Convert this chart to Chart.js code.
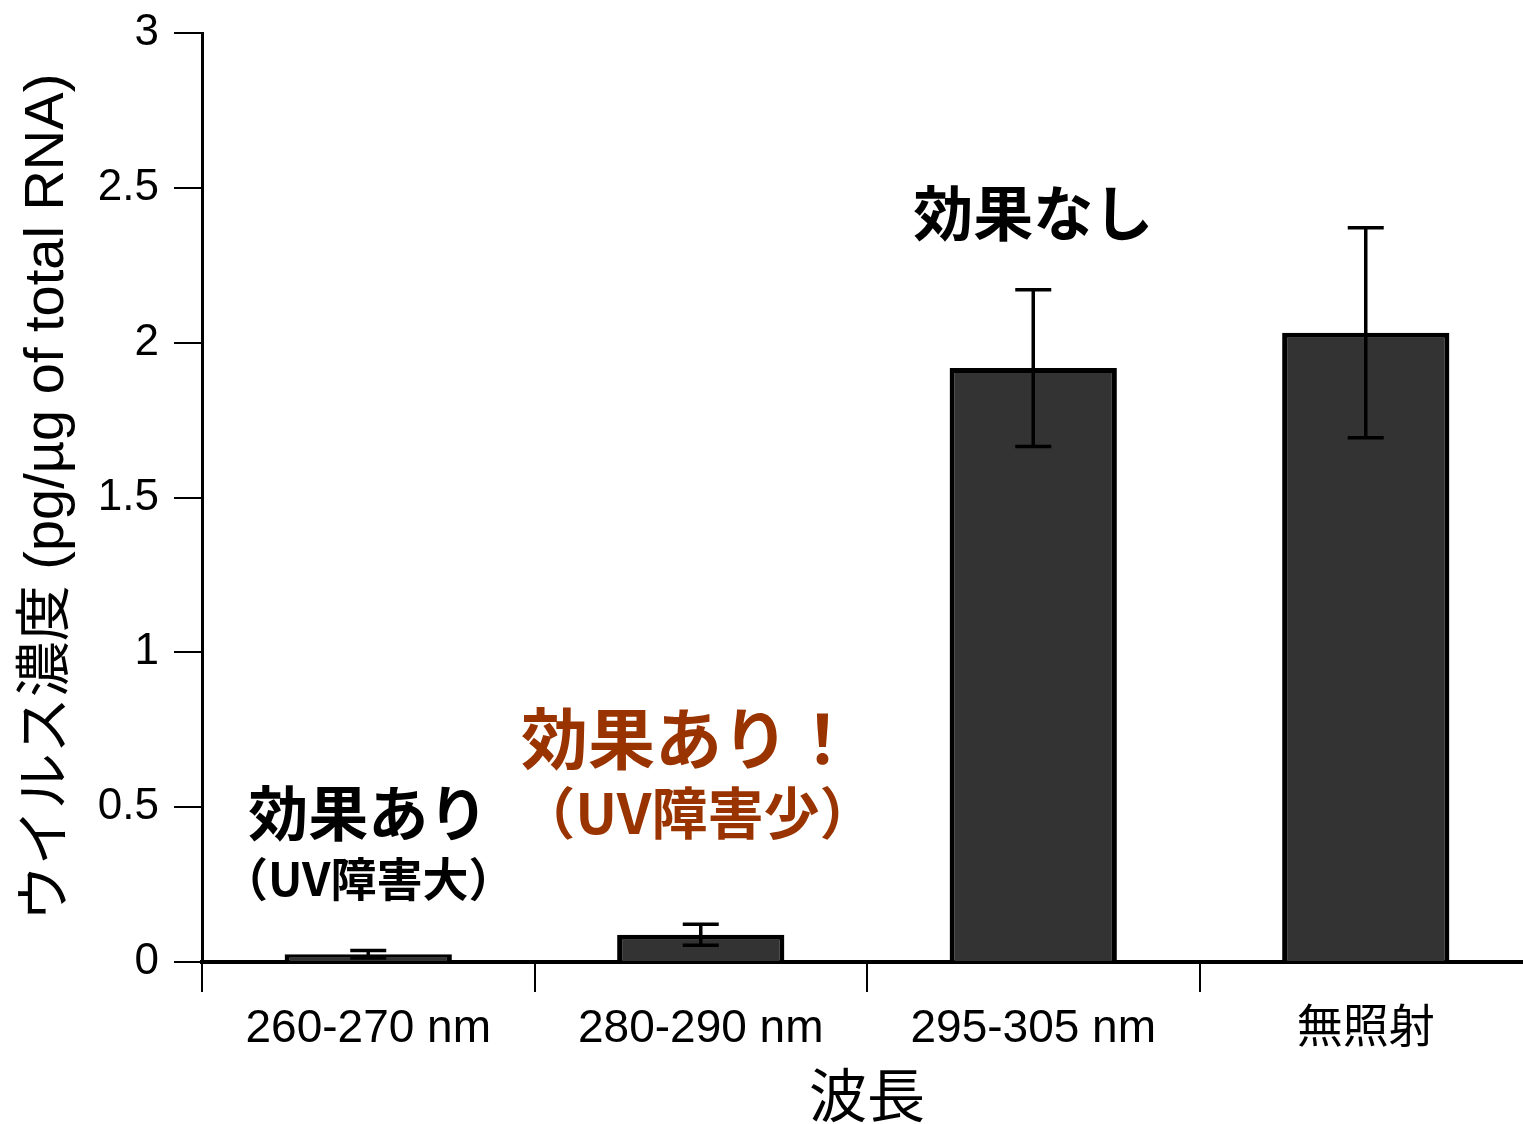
<!DOCTYPE html>
<html lang="ja">
<head>
<meta charset="UTF-8">
<title>波長別ウイルス濃度</title>
<style>
  * { margin: 0; padding: 0; box-sizing: border-box; }
  body { background: #fff; overflow: hidden; }
  .wrap { width: 1523px; height: 1124px; overflow: hidden; }
  .chart-box { width: 1545px; height: 1124px; position: relative; }
</style>
</head>
<body>
<div class="wrap">
  <div class="chart-box"><canvas id="uvChart"></canvas></div>
</div>

<script src="https://cdn.jsdelivr.net/npm/chart.js"></script>
<script>
// data
const wavelengths = ['260-270 nm', '280-290 nm', '295-305 nm', '無照射'];
const virusConc = [0.025, 0.088, 1.918, 2.032];
const concErr = [0.012, 0.034, 0.253, 0.339];
const yTicks = [0, 0.5, 1, 1.5, 2, 2.5, 3];

const FONT = "'Liberation Sans', Arial, 'Noto Sans CJK JP', sans-serif";
const JP_FONT = "'Noto Sans CJK JP', sans-serif";
Chart.defaults.font.family = FONT;
Chart.defaults.color = '#000';

// labels over the bars: [text, category position, y value, size, colour]
const notes = [
  ['効果なし', 2, 2.419, 60, '#000'],
  ['効果あり', 0, 0.481, 60, '#000'],
  ['（UV障害大）', 0, 0.271, 46, '#000'],
  ['効果あり！', 0.963, 0.723, 67, '#993300'],
  ['（UV障害少）', 0.99, 0.481, 56, '#993300']
];

// mean ± SD whiskers
const errorBars = {
  id: 'errorBars',
  afterDatasetsDraw(chart) {
    const { ctx, scales: { y } } = chart;
    const bars = chart.getDatasetMeta(0).data;
    ctx.save();
    ctx.strokeStyle = '#000';
    ctx.lineWidth = 3.5;
    bars.forEach((bar, i) => {
      const top = y.getPixelForValue(virusConc[i] + concErr[i]);
      const bot = y.getPixelForValue(Math.max(0, virusConc[i] - concErr[i]));
      const cap = 18;
      ctx.beginPath();
      ctx.moveTo(bar.x, top); ctx.lineTo(bar.x, bot);
      ctx.moveTo(bar.x - cap, top); ctx.lineTo(bar.x + cap, top);
      ctx.moveTo(bar.x - cap, bot); ctx.lineTo(bar.x + cap, bot);
      ctx.stroke();
    });
    ctx.restore();
  }
};

const noteLabels = {
  id: 'noteLabels',
  afterDraw(chart) {
    const { ctx, scales: { x, y } } = chart;
    ctx.save();
    ctx.textAlign = 'center';
    ctx.textBaseline = 'middle';
    notes.forEach(([text, pos, val, size, color]) => {
      ctx.font = `bold ${size}px ${JP_FONT}`;
      ctx.fillStyle = color;
      ctx.fillText(text, x.getPixelForDecimal((pos + 0.5) / wavelengths.length), y.getPixelForValue(val));
    });
    ctx.restore();
  }
};

new Chart(document.getElementById('uvChart'), {
  type: 'bar',
  data: {
    labels: wavelengths,
    datasets: [{
      data: virusConc,
      backgroundColor: '#333333',
      borderColor: '#000',
      borderWidth: 5,
      barPercentage: 0.503,
      categoryPercentage: 1
    }]
  },
  options: {
    responsive: true,
    maintainAspectRatio: false,
    animation: false,
    layout: { padding: { top: 33, right: 13, left: 0, bottom: 0 } },
    plugins: { legend: { display: false }, tooltip: { enabled: false } },
    scales: {
      x: {
        offset: true,
        grid: { drawOnChartArea: false, offset: true, tickLength: 30, color: '#000', lineWidth: 2 },
        border: { color: '#000', width: 4 },
        ticks: { color: '#000', font: { size: 46 }, padding: 10 },
        title: { display: true, text: '波長', color: '#000', font: { size: 58, lineHeight: 1, family: JP_FONT }, padding: 0 },
        afterFit(s) { s.height = 162; }
      },
      y: {
        min: 0,
        max: 3,
        afterBuildTicks(s) { s.ticks = yTicks.map(v => ({ value: v })); },
        grid: { drawOnChartArea: false, tickLength: 28, color: '#000', lineWidth: 2 },
        border: { color: '#000', width: 3 },
        ticks: { color: '#000', font: { size: 44, lineHeight: 0.8 }, padding: 15, callback: v => String(v) },
        title: { display: true, text: 'ウイルス濃度 (pg/µg of total RNA)', color: '#000', font: { size: 56 }, padding: { top: 14, bottom: 0 } },
        afterFit(s) { s.width = 202; }
      }
    }
  },
  plugins: [errorBars, noteLabels]
});
</script>
</body>
</html>
